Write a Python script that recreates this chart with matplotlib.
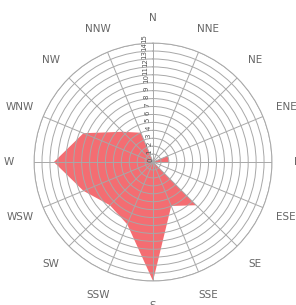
import numpy as np
import matplotlib
matplotlib.use('Agg')
import matplotlib.pyplot as plt

directions = ['N', 'NNE', 'NE', 'ENE', 'E', 'ESE', 'SE', 'SSE',
              'S', 'SSW', 'SW', 'WSW', 'W', 'WNW', 'NW', 'NNW']
values = [0, 0, 0, 2, 2, 0, 7.7, 6, 15, 8.5, 7.7, 9.5, 12.5, 9.5, 5.4, 4]
rings = list(range(0, 16))

theta = np.deg2rad(np.arange(len(directions)) * 22.5)

fig = plt.figure(figsize=(2.96, 3.05), dpi=100)
ax = fig.add_axes([0.115, 0.0787, 0.804, 0.780], projection='polar')
ax.set_theta_zero_location('N')
ax.set_theta_direction(-1)

t = np.append(theta, theta[0])
v = np.append(values, values[0])
ax.fill(t, v, color='#f35459', alpha=0.85, lw=0, zorder=1)

ax.set_ylim(0, 15)
ax.set_yticks(rings)
ax.set_yticklabels([str(r) for r in rings], fontsize=5, color='#555555')
ax.tick_params(axis='y', labelrotation=90, pad=0)
ax.set_rlabel_position(-3)
ax.set_xticks(theta)
ax.set_xticklabels([])
ax.grid(color='#a8a8a8', lw=0.7)
ax.spines['polar'].set_color('#a8a8a8')
ax.spines['polar'].set_linewidth(0.7)

for th, name in zip(theta, directions):
    ax.text(th, 15 * 144 / 119, name, ha='center', va='center',
            fontsize=7.5, color='#666666', clip_on=False)

fig.savefig('out.png', dpi=100)
